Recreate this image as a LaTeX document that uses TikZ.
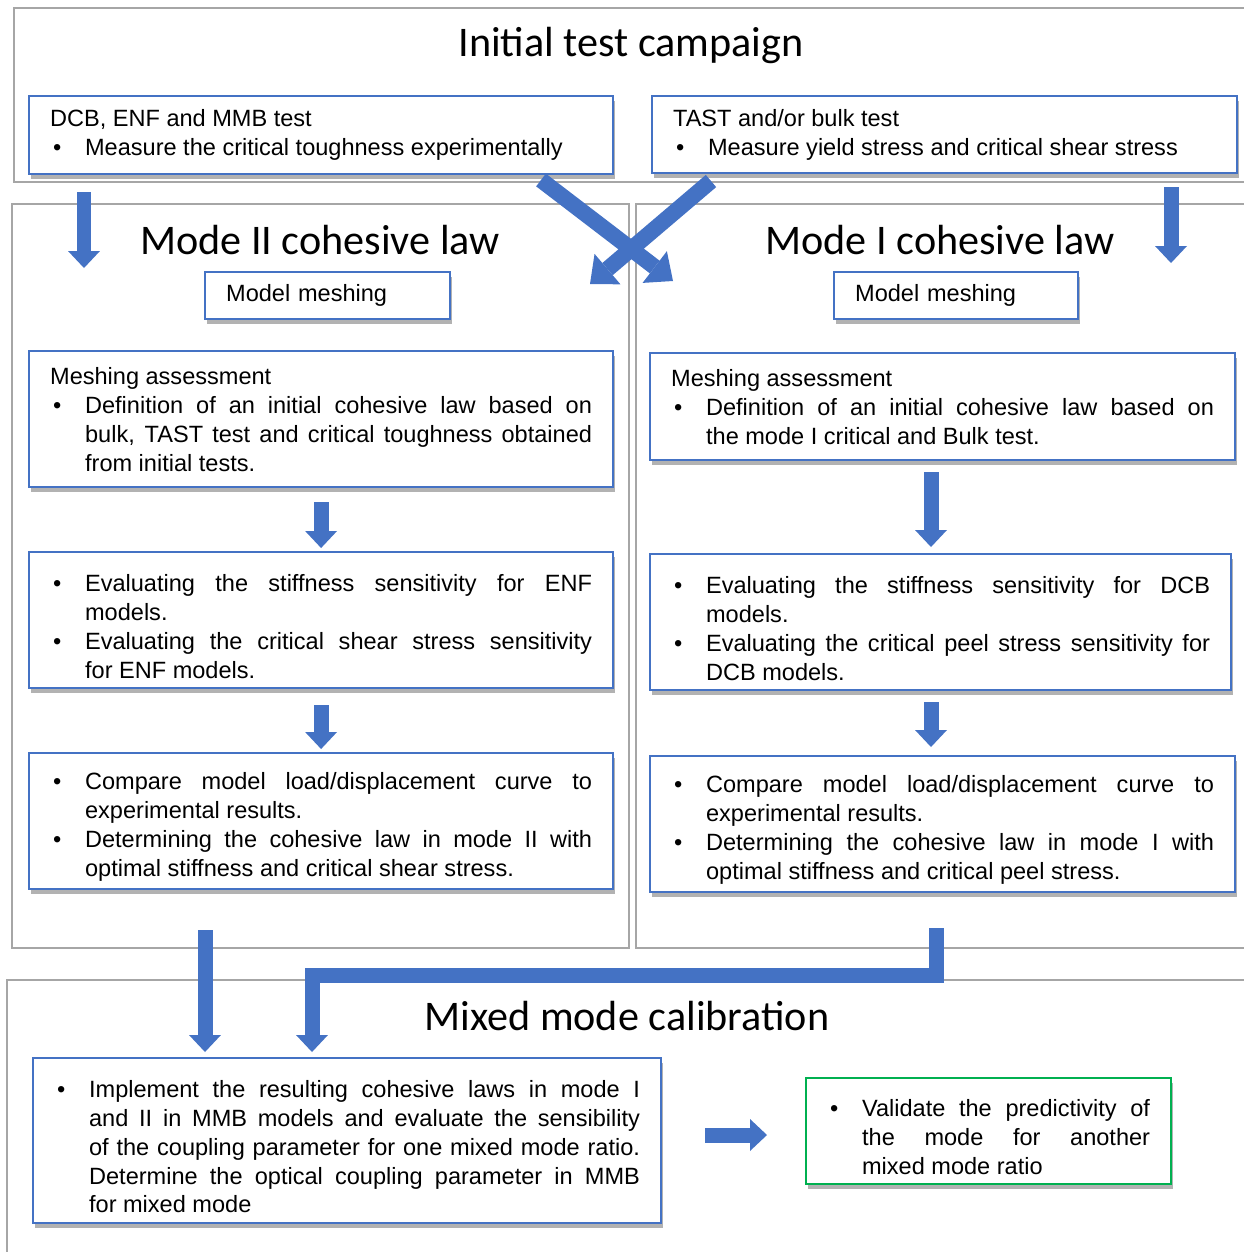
\documentclass[tikz,border=0pt]{standalone}
\usepackage{fontspec}
\setmainfont{Liberation Sans}
\newfontfamily\calfont{Carlito}
\usetikzlibrary{arrows.meta,shadows}

\definecolor{OfficeBlue}{RGB}{68,114,196}
\definecolor{FrameGrey}{RGB}{166,166,166}
\definecolor{OfficeGreen}{RGB}{0,176,80}

\setlength{\parindent}{0pt}
\hyphenpenalty=10000
\exhyphenpenalty=10000

% bullet line with hanging indent
\newlength{\bulind}
\setlength{\bulind}{0.7cm}
\newcommand{\bitem}[1]{\par\noindent\hangindent=\bulind\hangafter=1\makebox[\bulind][l]{\hspace{0.06cm}\textbullet}#1\par}

\begin{document}
\begin{tikzpicture}[x=0.02cm, y=-0.02cm,
    frame/.style={draw=FrameGrey, line width=1.1pt},
    title/.style={font=\fontsize{24}{28}\calfont\selectfont, inner sep=0pt},
    stepbox/.style={draw=OfficeBlue, line width=1.3pt, fill=white,
        drop shadow={shadow xshift=1pt, shadow yshift=-2.5pt, fill=black!55, opacity=0.55},
        anchor=north west, inner xsep=0.42cm, inner ysep=0pt, align=justify,
        font=\fontsize{13.4}{16.5}\selectfont},
    flow/.style={draw=OfficeBlue, line width=0.3cm, -{Triangle[width=0.64cm, length=0.34cm, line width=0pt]}},
    cross/.style={draw=OfficeBlue, line width=0.32cm, -{Triangle[width=0.8cm, length=0.46cm, line width=0pt]}}]
    \useasboundingbox (0,0) rectangle (1244,1252);

    % Frames
    \draw[frame] (14,8) rectangle (1262,182);
    \draw[frame] (12,204) rectangle (629,948);
    \draw[frame] (636,204) rectangle (1262,948);
    \draw[frame] (7,980) rectangle (1262,1270);

    % Titles
    \node[title] (tInit) at (631,45) {Initial test campaign};
    \node[title] (tModeII) at (320,240) {Mode II cohesive law};
    \node[title] (tModeI) at (940,240) {Mode I cohesive law};
    \node[title] (tMixed) at (627,1016) {Mixed mode calibration};

    % Initial tests
    \node[stepbox, text width=10.84cm, minimum height=1.56cm] (dcb) at (28,95)
        {DCB, ENF and MMB test\bitem{Measure the critical toughness experimentally}};
    \node[stepbox, text width=10.86cm, minimum height=1.54cm] (tast) at (651,95)
        {TAST and/or bulk test\bitem{Measure yield stress and critical shear stress}};

    % Mode II column
    \node[stepbox, align=left, text width=4.06cm, minimum height=0.94cm] (meshII) at (204,271) {Model meshing};
    \node[stepbox, text width=10.84cm, minimum height=2.72cm] (assessII) at (28,350)
        {Meshing assessment\bitem{Definition of an initial cohesive law based on\linebreak bulk, TAST test and critical toughness obtained\linebreak from initial tests.}};
    \node[stepbox, text width=10.84cm, minimum height=2.72cm] (evalII) at (28,551)
        {\bitem{Evaluating the stiffness sensitivity for ENF\linebreak models.}\bitem{Evaluating the critical shear stress sensitivity\linebreak for ENF models.}};
    \node[stepbox, text width=10.84cm, minimum height=2.72cm] (compII) at (28,752)
        {\bitem{Compare model load/displacement curve to\linebreak experimental results.}\bitem{Determining the cohesive law in mode II with\linebreak optimal stiffness and critical shear stress.}};

    % Mode I column
    \node[stepbox, align=left, text width=4.04cm, minimum height=0.94cm] (meshI) at (833,271) {Model meshing};
    \node[stepbox, text width=10.86cm, minimum height=2.14cm] (assessI) at (649,352)
        {Meshing assessment\bitem{Definition of an initial cohesive law based on\linebreak the mode I critical and Bulk test.}};
    \node[stepbox, text width=10.78cm, minimum height=2.72cm] (evalI) at (649,553)
        {\bitem{Evaluating the stiffness sensitivity for DCB\linebreak models.}\bitem{Evaluating the critical peel stress sensitivity for\linebreak DCB models.}};
    \node[stepbox, text width=10.86cm, minimum height=2.72cm] (compI) at (649,755)
        {\bitem{Compare model load/displacement curve to\linebreak experimental results.}\bitem{Determining the cohesive law in mode I with\linebreak optimal stiffness and critical peel stress.}};

    % Mixed mode
    \node[stepbox, text width=11.72cm, minimum height=3.3cm] (impl) at (32,1057)
        {\bitem{Implement the resulting cohesive laws in mode I\linebreak and II in MMB models and evaluate the sensibility\linebreak of the coupling parameter for one mixed mode ratio.\linebreak Determine the optical coupling parameter in MMB\linebreak for mixed mode}};
    \node[stepbox, draw=OfficeGreen, text width=6.46cm, minimum height=2.12cm] (valid) at (805,1077)
        {\bitem{Validate the predictivity of\linebreak the mode for another\linebreak mixed mode ratio}};

    % Arrow ends
    \coordinate (colL) at (84,0);
    \coordinate (colR) at (1171,0);
    \coordinate (colMR) at (931,0);
    \coordinate (inII) at (84,268);
    \coordinate (inI) at (1171,263);
    \coordinate (xAs) at (541,180);
    \coordinate (xAe) at (673,281);
    \coordinate (xBs) at (711,181);
    \coordinate (xBe) at (590,284);
    \coordinate (outII) at (205,930);
    \coordinate (outI) at (936,928);
    \coordinate (elbow) at (312,975);
    \coordinate (hz) at (0,1135);

    % Arrows
    \draw[flow, shorten <=0.34cm] (dcb.south -| colL) -- (inII);
    \draw[flow, shorten <=0.26cm] (tast.south -| colR) -- (inI);
    \draw[cross] (xAs) -- (xAe);
    \draw[cross] (xBs) -- (xBe);
    \draw[flow, shorten <=0.28cm, shorten >=0.06cm] (assessII.south) -- (evalII.north);
    \draw[flow, shorten <=0.32cm, shorten >=0.06cm] (evalII.south) -- (compII.north);
    \draw[flow, shorten <=0.22cm, shorten >=0.12cm] (assessI.south -| colMR) -- (evalI.north -| colMR);
    \draw[flow, shorten <=0.22cm, shorten >=0.16cm] (evalI.south -| colMR) -- (compI.north -| colMR);
    \draw[flow, shorten >=0.1cm] (outII) -- (impl.north -| outII);
    \draw[flow, shorten >=0.1cm] (outI) |- (elbow) -- (impl.north -| elbow);
    \draw[flow, shorten <=0.86cm, shorten >=0.76cm] (impl.east |- hz) -- (valid.west |- hz);
\end{tikzpicture}
\end{document}
